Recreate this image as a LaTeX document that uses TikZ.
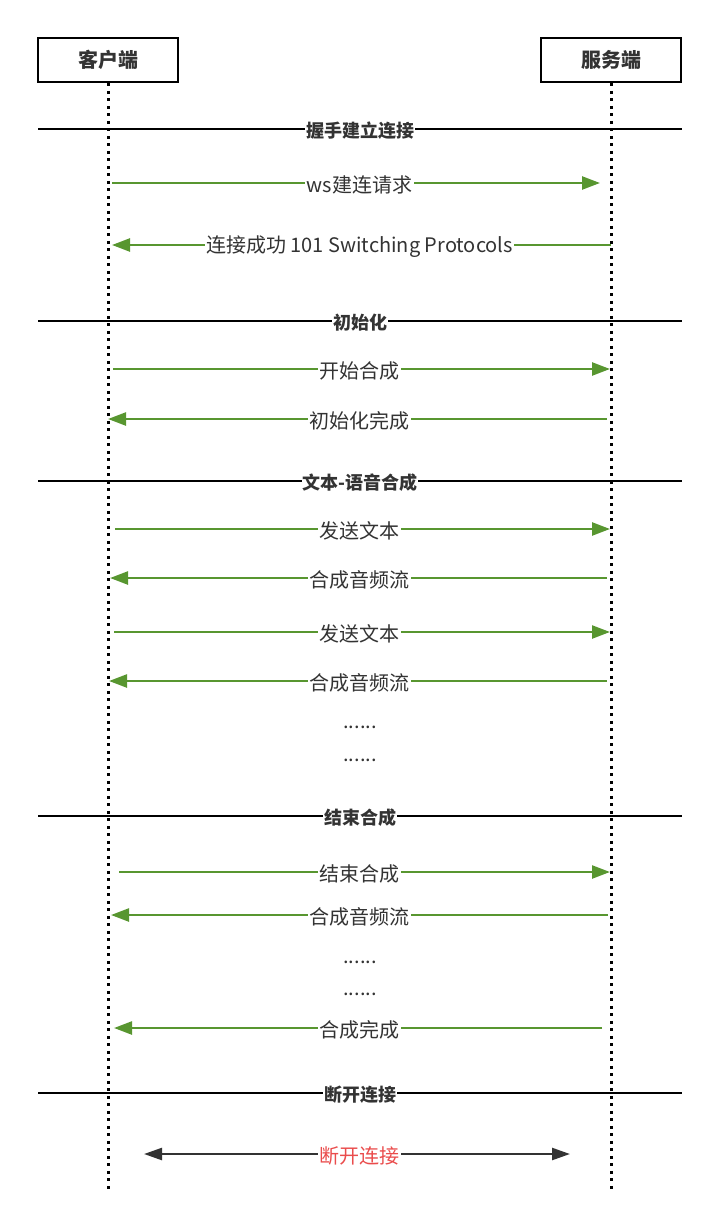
\documentclass[tikz,border=0pt]{standalone}
\usepackage{fontspec}
\setmainfont{Noto Sans CJK SC}
\usepackage{xcolor}
\usepackage{tikz}
\usetikzlibrary{arrows.meta,positioning,calc}
\definecolor{msggreen}{RGB}{88,150,48}
\definecolor{txtgray}{RGB}{51,51,51}
\definecolor{byered}{RGB}{234,76,76}

\begin{document}
\begin{tikzpicture}[x=1pt, y=-1pt, font=\fontsize{20}{23}\selectfont, text=txtgray,
  actor/.style={draw=black, line width=2.8pt, fill=white, minimum width=140pt, minimum height=44pt, font=\fontsize{20}{23}\selectfont\bfseries},
  life/.style={line width=3pt, dash pattern=on 3pt off 4.5pt},
  phase/.style={line width=2.5pt},
  phaselbl/.style={fill=white, inner xsep=1pt, inner ysep=0pt, yshift=-2pt, font=\fontsize{18}{21}\selectfont\bfseries},
  msg/.style={draw=msggreen, line width=2.4pt, -{Triangle[length=18pt, width=13pt]}},
  lbl/.style={fill=white, inner xsep=1.5pt, inner ysep=0pt, yshift=-2pt}]
\useasboundingbox (0,0) rectangle (718,1225);

% actors and lifelines
\node[actor] (client) at (108,60) {客户端};
\node[actor] (server) at (611,60) {服务端};
\coordinate (clientend) at (client |- 0,1190);
\coordinate (serverend) at (server |- 0,1190);
\draw[life] (client.south) -- (clientend);
\draw[life] (server.south) -- (serverend);

% phases
\draw[phase] (38,129) -- node[phaselbl] {握手建立连接} (682,129);
\draw[phase] (38,321) -- node[phaselbl] {初始化} (682,321);
\draw[phase] (38,481) -- node[phaselbl] {文本-语音合成} (682,481);
\draw[phase] (38,816) -- node[phaselbl] {结束合成} (682,816);
\draw[phase] (38,1093) -- node[phaselbl] {断开连接} (682,1093);

% handshake
\draw[msg, shorten <=4pt, shorten >=11pt] (client |- 0,183) -- node[lbl] {ws建连请求} (server |- 0,183);
\draw[msg, shorten >=4pt] (server |- 0,245) -- node[lbl] {连接成功 101 Switching Protocols} (client |- 0,245);

% init
\draw[msg, shorten <=5pt, shorten >=1pt] (client |- 0,369) -- node[lbl] {开始合成} (server |- 0,369);
\draw[msg, shorten <=4pt] (server |- 0,419) -- node[lbl] {初始化完成} (client |- 0,419);

% synthesis
\draw[msg, shorten <=7pt, shorten >=1pt] (client |- 0,529) -- node[lbl] {发送文本} (server |- 0,529);
\draw[msg, shorten <=4pt, shorten >=2pt] (server |- 0,578) -- node[lbl] {合成音频流} (client |- 0,578);
\draw[msg, shorten <=6pt, shorten >=1pt] (client |- 0,632) -- node[lbl] {发送文本} (server |- 0,632);
\draw[msg, shorten <=4pt, shorten >=1pt] (server |- 0,681) -- node[lbl] {合成音频流} (client |- 0,681);
\node (more1) at (360,727) {......};
\node (more2) at (360,760) {......};

% finish
\draw[msg, shorten <=11pt, shorten >=1pt] (client |- 0,872) -- node[lbl] {结束合成} (server |- 0,872);
\draw[msg, shorten <=3pt, shorten >=3pt] (server |- 0,915) -- node[lbl] {合成音频流} (client |- 0,915);
\node (more3) at (360,962) {......};
\node (more4) at (360,994) {......};
\draw[msg, shorten <=9pt, shorten >=6pt] (server |- 0,1028) -- node[lbl] {合成完成} (client |- 0,1028);

% close
\draw[draw=txtgray, line width=2.4pt, {Triangle[length=18pt, width=12pt]}-{Triangle[length=18pt, width=12pt]}, shorten <=36pt, shorten >=41pt] (client |- 0,1154) -- node[lbl] [text=byered] {断开连接} (server |- 0,1154);
\end{tikzpicture}
\end{document}
